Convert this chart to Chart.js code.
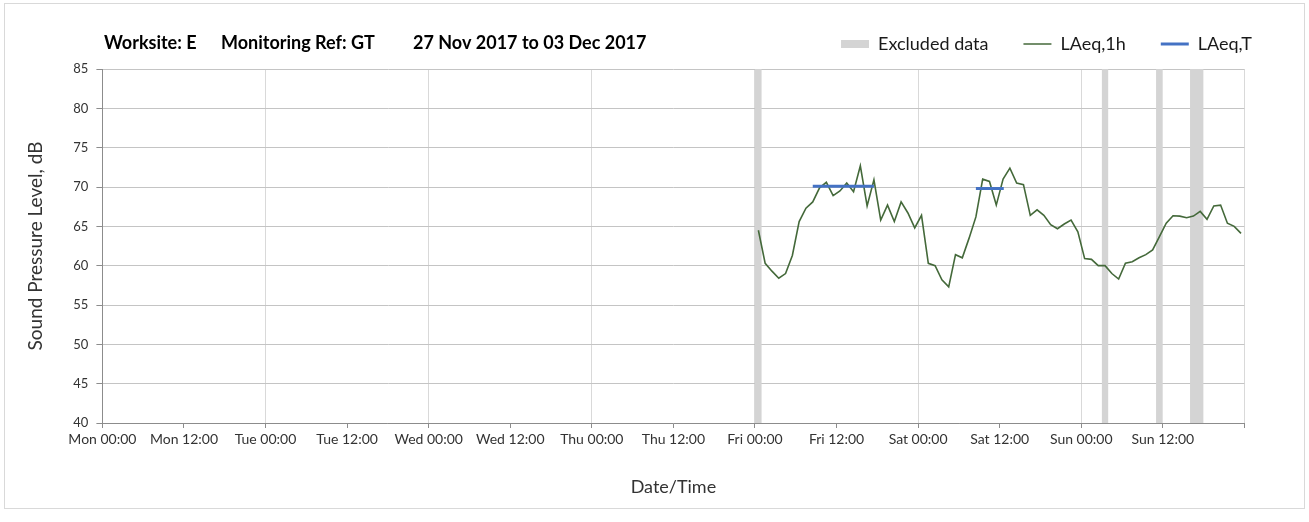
<!DOCTYPE html>
<html><head><meta charset="utf-8">
<script src="https://cdn.jsdelivr.net/npm/chart.js@4.4.0/dist/chart.umd.min.js"></script>
<style>
html,body{margin:0;padding:0;background:#fff;}
#wrap{position:relative;width:1309px;height:522px;}
#frame{position:absolute;left:4px;top:3px;width:1299px;height:504px;border:1px solid #d9d9d9;pointer-events:none;}
canvas{position:absolute;left:0;top:0;}
</style></head><body>
<div id="wrap"><canvas id="c" width="1309" height="522"></canvas><div id="frame"></div></div>
<script>
// ---- data ----
const titleParts = ['Worksite: E', 'Monitoring Ref: GT', '27 Nov 2017 to 03 Dec 2017'];
const tickLabels = ['Mon 00:00','Mon 12:00','Tue 00:00','Tue 12:00','Wed 00:00','Wed 12:00',
  'Thu 00:00','Thu 12:00','Fri 00:00','Fri 12:00','Sat 00:00','Sat 12:00','Sun 00:00','Sun 12:00'];
const firstHour = 96.5; // hours after Mon 00:00 of the first hourly value
const laeq1h = [64.5, 60.3, 59.3, 58.4, 59.0, 61.3, 65.6, 67.3, 68.1, 69.9, 70.6, 68.9,
  69.5, 70.5, 69.4, 72.7, 67.6, 70.9, 65.8, 67.7, 65.6, 68.1, 66.7, 64.8,
  66.4, 60.3, 60.0, 58.2, 57.3, 61.4, 61.0, 63.5, 66.2, 71.0, 70.7, 67.7,
  71.0, 72.4, 70.5, 70.3, 66.4, 67.1, 66.4, 65.2, 64.7, 65.3, 65.8, 64.3,
  60.9, 60.8, 60.0, 60.0, 59.0, 58.3, 60.3, 60.5, 61.0, 61.4, 62.0, 63.7,
  65.4, 66.35, 66.3, 66.1, 66.3, 66.9, 65.9, 67.6, 67.7, 65.4, 65.0, 64.1];
const laeqTStart = [104.5, 128.5];
const laeqTEnd = [113.5, 132.6];
const laeqTValue = [70.1, 69.8];
const excludedStart = [96, 147, 155, 160];
const excludedEnd = [97, 148, 156, 162];
const yMin = 40, yMax = 85, yStep = 5;

// ---- build datasets ----
const lineData = laeq1h.map((v, i) => ({x: firstHour + i, y: v}));
const tData = [];
laeqTStart.forEach((s, i) => {
  if (i > 0) tData.push({x: s, y: null});
  tData.push({x: s, y: laeqTValue[i]}, {x: laeqTEnd[i], y: laeqTValue[i]});
});
const exData = [];
excludedStart.forEach((s, i) => {
  if (i > 0) exData.push({x: s, y: null});
  exData.push({x: s, y: yMax}, {x: excludedEnd[i], y: yMax});
});

const FONT = 'Lato';
Chart.defaults.font.family = FONT;

const titlePlugin = {
  id: 'titleText',
  afterDraw(chart) {
    const ctx = chart.ctx;
    ctx.save();
    ctx.font = 'bold 18px ' + FONT;
    ctx.fillStyle = '#000';
    ctx.textBaseline = 'alphabetic';
    const xs = [104, 221, 413];
    titleParts.forEach((t, i) => ctx.fillText(t, xs[i], 49));
    ctx.restore();
  }
};

new Chart(document.getElementById('c'), {
  type: 'line',
  data: {
    datasets: [
      {label: 'Excluded data', data: exData, borderWidth: 0, borderColor: 'rgba(0,0,0,0)',
       backgroundColor: '#d4d4d4', fill: 'start', pointRadius: 0, spanGaps: false, order: 3,
       legendStyle: 'rect', legendFill: '#d4d4d4', legendStroke: '#d4d4d4', legendWidth: 0},
      {label: 'LAeq,1h', data: lineData, borderWidth: 1.6, borderColor: '#44693a',
       pointRadius: 0, fill: false, tension: 0, order: 2,
       legendStyle: 'line', legendFill: '#44693a', legendStroke: '#44693a', legendWidth: 1.5},
      {label: 'LAeq,T', data: tData, borderWidth: 3, borderColor: '#4472c4',
       pointRadius: 0, fill: false, spanGaps: false, order: 1,
       legendStyle: 'line', legendFill: '#4472c4', legendStroke: '#4472c4', legendWidth: 3}
    ]
  },
  options: {
    responsive: false,
    animation: false,
    events: [],
    layout: {padding: {left: 0, right: 22, top: 0, bottom: 0}},
    plugins: {
      tooltip: {enabled: false},
      title: {display: false},
      legend: {
        position: 'top', align: 'end',
        labels: {
          usePointStyle: true, pointStyleWidth: 28, boxHeight: 8, padding: 35,
          color: '#1a1a1a', font: {size: 18, family: FONT},
          generateLabels: chart => chart.data.datasets.map((ds, i) => ({
            text: ds.label, fillStyle: ds.legendFill, strokeStyle: ds.legendStroke,
            lineWidth: ds.legendWidth, pointStyle: ds.legendStyle, hidden: false,
            datasetIndex: i, fontColor: '#1a1a1a'
          }))
        }
      }
    },
    scales: {
      x: {
        type: 'linear', min: 0, max: 168,
        ticks: {stepSize: 12, autoSkip: false, maxRotation: 0, minRotation: 0,
          callback: v => (tickLabels[v / 12] !== undefined ? tickLabels[v / 12] : ''),
          font: {size: 14}, color: '#333', padding: 3},
        grid: {color: c => (c.tick && c.tick.value % 24 === 0) ? '#d9d9d9' : 'rgba(0,0,0,0)',
          tickColor: '#8c8c8c', tickLength: 5, lineWidth: 1},
        border: {color: '#8c8c8c', width: 1},
        title: {display: true, text: 'Date/Time', font: {size: 18}, color: '#333',
          padding: {top: 0, bottom: 24}},
        afterFit: s => { s.height = 99; }
      },
      xT: {
        type: 'linear', position: 'top', axis: 'x', display: true,
        grid: {display: false}, ticks: {display: false}, border: {display: false},
        afterFit: s => { s.height = 6; }
      },
      y: {
        min: yMin, max: yMax,
        ticks: {stepSize: yStep, font: {size: 13}, color: '#333', padding: 8},
        grid: {color: '#c4c4c4', tickColor: '#8c8c8c', tickLength: 6, lineWidth: 1},
        border: {color: '#8c8c8c', width: 1},
        title: {display: true, text: 'Sound Pressure Level, dB', font: {size: 19}, color: '#333',
          padding: {top: 24, bottom: 0}},
        afterFit: s => { s.width = 102.4; }
      },
      yR: {
        type: 'linear', position: 'right', axis: 'y', display: true,
        grid: {display: false}, ticks: {display: false}, border: {display: false},
        afterFit: s => { s.width = 42.6; }
      }
    }
  },
  plugins: [titlePlugin]
});
</script>
</body></html>
